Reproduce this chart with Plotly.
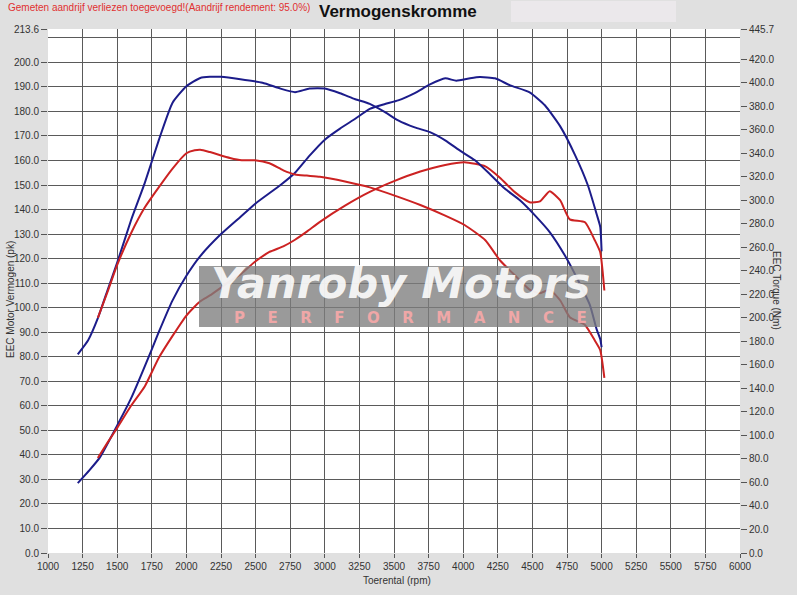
import plotly.graph_objects as go

# ---------------- data ----------------
blue_torque_rpm = [1215, 1290, 1361, 1430, 1500, 1600, 1700, 1800, 1900, 2000, 2100, 2170, 2250, 2390,
                   2550, 2680, 2785, 2890, 3000, 3110, 3220, 3325, 3435, 3530, 3650, 3760, 3870, 3980,
                   4085, 4195, 4300, 4410, 4520, 4625, 4735, 4830, 4915, 4965, 4990, 5000]
blue_torque_nm = [169, 181, 200, 223.5, 247, 283, 315, 351, 383, 397, 404, 405, 405, 403,
                  400, 395, 392, 395, 395, 391, 386, 382, 375, 368, 362, 358, 351, 342,
                  334, 322, 310, 300, 287, 273, 253, 232, 211, 190, 182, 175]

blue_power_rpm = [1215, 1300, 1375, 1500, 1600, 1750, 1800, 1900, 2000, 2100, 2250, 2390, 2500, 2680,
                  2785, 2890, 3000, 3110, 3220, 3325, 3435, 3530, 3650, 3760, 3870, 3950, 4050, 4120,
                  4230, 4340, 4480, 4590, 4700, 4810, 4900, 4965, 4990, 5000]
blue_power_pk = [28.5, 33.8, 39, 52, 63, 83, 90, 103, 113, 121, 130, 137, 142.5, 150,
                 155, 162, 168.5, 173, 177, 181, 183, 184.5, 187.5, 191, 193.5, 192.5, 193.5, 194,
                 193.5, 190.6, 187.8, 182.5, 174, 162, 150, 138, 133, 123]

red_torque_rpm = [1360, 1430, 1500, 1600, 1700, 1800, 1900, 2000, 2060, 2100, 2170, 2315, 2400, 2495,
                  2600, 2700, 2785, 2870, 2965, 3146, 3325, 3505, 3690, 3870, 4010, 4160, 4265, 4375,
                  4480, 4555, 4625, 4700, 4770, 4880, 4950, 4990, 5020]
red_torque_nm = [200, 222, 245, 272, 294, 311, 327, 340, 342.5, 343, 341, 336, 334, 334,
                 331.5, 325.5, 322, 321, 320, 316, 311, 304, 296, 287, 279, 266, 249, 236,
                 224, 221, 224, 215, 200.6, 194, 181, 172.6, 149]

red_power_rpm = [1360, 1430, 1500, 1600, 1700, 1800, 1900, 2000, 2100, 2170, 2315, 2400, 2495, 2600,
                 2700, 2785, 2870, 2965, 3146, 3325, 3505, 3690, 3870, 4010, 4160, 4265, 4375, 4480,
                 4555, 4625, 4700, 4770, 4880, 4950, 4990, 5020]
red_power_pk = [38.7, 45, 51, 60, 68, 79.5, 88.5, 96.8, 102.6, 105, 110.8, 114, 118.7, 122.7,
                125, 127.7, 131, 135, 141.6, 147.2, 151.7, 155.5, 158.2, 159.3, 157.6, 153, 147, 143,
                143.3, 147.5, 143.8, 136, 134.8, 127.6, 122.6, 107]

x_ticks = list(range(1000, 6001, 250))
left_ticks = [v for v in range(0, 201, 10)] + [213.6]
left_grid = list(range(0, 211, 10))
right_ticks = [v for v in range(0, 421, 20)] + [445.7]

POWER_MAX = 213.6
TORQUE_MAX = 445.7

BLUE = "#1c1c8a"
RED = "#cc2222"
FONT = "Liberation Sans, Arial, sans-serif"

fig = go.Figure()
line_style = dict(width=2, shape="spline", smoothing=0.5)
fig.add_trace(go.Scatter(x=blue_torque_rpm, y=blue_torque_nm, yaxis="y2", mode="lines",
                         line=dict(color=BLUE, **line_style), showlegend=False))
fig.add_trace(go.Scatter(x=blue_power_rpm, y=blue_power_pk, yaxis="y", mode="lines",
                         line=dict(color=BLUE, **line_style), showlegend=False))
fig.add_trace(go.Scatter(x=red_torque_rpm, y=red_torque_nm, yaxis="y2", mode="lines",
                         line=dict(color=RED, **line_style), showlegend=False))
fig.add_trace(go.Scatter(x=red_power_rpm, y=red_power_pk, yaxis="y", mode="lines",
                         line=dict(color=RED, **line_style), showlegend=False))
fig.add_trace(go.Scatter(x=[None], y=[None], yaxis="y3", showlegend=False, hoverinfo="skip"))

tickfont = dict(family=FONT, size=10, color="#333333")

fig.update_layout(
    width=797, height=595,
    margin=dict(l=48, r=57, t=29, b=42),
    paper_bgcolor="#e0e0e0",
    plot_bgcolor="#ffffff",
    font=dict(family=FONT, size=10, color="#333333"),
    xaxis=dict(range=[1000, 6000], tickvals=x_ticks, ticktext=[str(v) for v in x_ticks],
               showgrid=True, gridcolor="#5a5a5a", gridwidth=1, zeroline=False, automargin=False,
               ticks="outside", ticklen=4, tickcolor="#555555", tickfont=tickfont, showline=False),
    yaxis=dict(range=[0, POWER_MAX], tickvals=left_ticks, automargin=False,
               ticktext=[f"{v:.1f}" for v in left_ticks], showgrid=False, zeroline=False,
               ticks="outside", ticklen=6, tickcolor="#555555", tickfont=tickfont, showline=False),
    yaxis3=dict(range=[0, POWER_MAX], overlaying="y", tickvals=left_grid, showticklabels=False,
                showgrid=True, gridcolor="#5a5a5a", gridwidth=1, zeroline=False, ticks=""),
    yaxis2=dict(range=[0, TORQUE_MAX], overlaying="y", side="right", tickvals=right_ticks,
                ticktext=[f"{v:.1f}" for v in right_ticks], showgrid=False, zeroline=False,
                automargin=False,
                ticks="outside", ticklen=6, tickcolor="#555555", tickfont=tickfont, showline=False),
)


def px_x(p):
    return (p - 48) / 692


def px_y(p):
    return (553 - p) / 524


# light box top right
fig.add_shape(type="rect", xref="paper", yref="paper",
              x0=px_x(511), x1=px_x(676), y0=px_y(22), y1=px_y(1),
              fillcolor="#ebe8eb", line=dict(width=0), layer="below")

# watermark
fig.add_shape(type="rect", xref="paper", yref="paper",
              x0=px_x(199), x1=px_x(600), y0=px_y(327), y1=px_y(266),
              fillcolor="rgba(125,125,125,0.78)", line=dict(width=0), layer="above")
fig.add_annotation(xref="paper", yref="paper", x=px_x(400), y=px_y(283), xanchor="center", yanchor="middle",
                   text="<b><i>Yanroby Motors</i></b>", showarrow=False,
                   font=dict(family="DejaVu Sans, sans-serif", size=43, color="rgba(255,255,255,0.9)"))
sp = "\u2003\u2002"
fig.add_annotation(xref="paper", yref="paper", x=px_x(410), y=px_y(318), xanchor="center", yanchor="middle",
                   text="<b>" + sp.join(list("PERFORMANCE")) + "</b>",
                   showarrow=False,
                   font=dict(family="DejaVu Sans, sans-serif", size=15, color="rgba(255,170,170,0.85)"))

# texts
fig.add_annotation(xref="paper", yref="paper", x=px_x(398), y=px_y(11), xanchor="center", yanchor="middle",
                   text="<b>Vermogenskromme</b>", showarrow=False,
                   font=dict(family=FONT, size=17, color="#111111"))
fig.add_annotation(xref="paper", yref="paper", x=px_x(6), y=px_y(7), xanchor="left", yanchor="middle",
                   text="Gemeten aandrijf verliezen toegevoegd!(Aandrijf rendement: 95.0%)",
                   showarrow=False, font=dict(family=FONT, size=10, color="#e03030"))
fig.add_annotation(xref="paper", yref="paper", x=px_x(10), y=px_y(300), xanchor="center", yanchor="middle",
                   text="EEC Motor Vermogen (pk)", textangle=-90, showarrow=False,
                   font=dict(family=FONT, size=10, color="#333333"))
fig.add_annotation(xref="paper", yref="paper", x=px_x(777), y=px_y(290), xanchor="center", yanchor="middle",
                   text="EEC Torque (Nm)", textangle=90, showarrow=False,
                   font=dict(family=FONT, size=10, color="#333333"))
fig.add_annotation(xref="paper", yref="paper", x=px_x(397), y=px_y(580), xanchor="center", yanchor="middle",
                   text="Toerental (rpm)", showarrow=False,
                   font=dict(family=FONT, size=10, color="#333333"))

fig.write_html("out.html", config={"displayModeBar": False},
               post_script="document.body.style.margin='0';document.body.style.overflow='hidden';")
